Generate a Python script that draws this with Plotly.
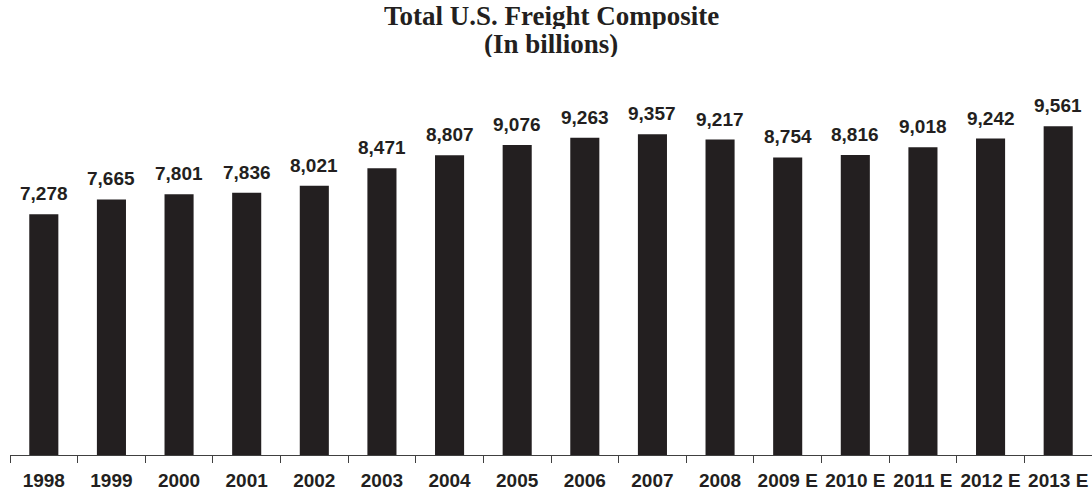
import plotly.graph_objects as go

years = ["1998", "1999", "2000", "2001", "2002", "2003", "2004", "2005",
         "2006", "2007", "2008", "2009 E", "2010 E", "2011 E", "2012 E", "2013 E"]
values = [7278, 7665, 7801, 7836, 8021, 8471, 8807, 9076,
          9263, 9357, 9217, 8754, 8816, 9018, 9242, 9561]
title_line1 = "Total U.S. Freight Composite"
title_line2 = "(In billions)"

INK = "#231f20"
SANS = "Liberation Sans, Arial, sans-serif"
SERIF = "Liberation Serif, Times New Roman, serif"

fig = go.Figure()
fig.add_trace(go.Bar(x=years, y=values, marker=dict(color=INK, line=dict(width=0)),
                     hoverinfo="skip"))

annotations = []
for i, v in enumerate(values):
    annotations.append(dict(x=i, y=v, xref="x", yref="y", text=f"<b>{v:,}</b>",
                            showarrow=False, yanchor="bottom", yshift=8,
                            font=dict(family=SANS, size=19, color=INK)))
annotations.append(dict(x=0.5, y=1, xref="paper", yref="paper", yshift=84,
                        text=f"<b>{title_line1}</b>", showarrow=False, yanchor="middle",
                        height=26, valign="middle", borderpad=0,
                        font=dict(family=SERIF, size=27, color=INK)))
annotations.append(dict(x=0.5, y=1, xref="paper", yref="paper", yshift=56,
                        text=f"<b>{title_line2}</b>", showarrow=False, yanchor="middle",
                        height=26, valign="middle", borderpad=0,
                        font=dict(family=SERIF, size=27, color=INK)))

fig.update_layout(
    width=1092, height=492,
    margin=dict(l=10, r=0, t=100, b=37),
    paper_bgcolor="white", plot_bgcolor="white",
    bargap=0.57,
    showlegend=False,
    annotations=annotations,
    xaxis=dict(type="category", range=[-0.5, len(years) - 0.5], autorange=False,
               tickson="boundaries", ticks="outside", ticklen=7, tickangle=0,
               ticklabelstandoff=8,
               tickwidth=1, tickcolor="#404040", showline=True, linecolor="#404040",
               linewidth=1, showgrid=False, zeroline=False,
               tickfont=dict(family=SANS, size=19, color=INK),
               tickprefix="<b>", ticksuffix="</b>"),
    yaxis=dict(range=[1034, 10243], autorange=False, visible=False,
               showgrid=False, zeroline=False),
)

fig.write_html("out.html", config={"displayModeBar": False},
               post_script="document.body.style.margin='0';document.body.style.padding='0';")
